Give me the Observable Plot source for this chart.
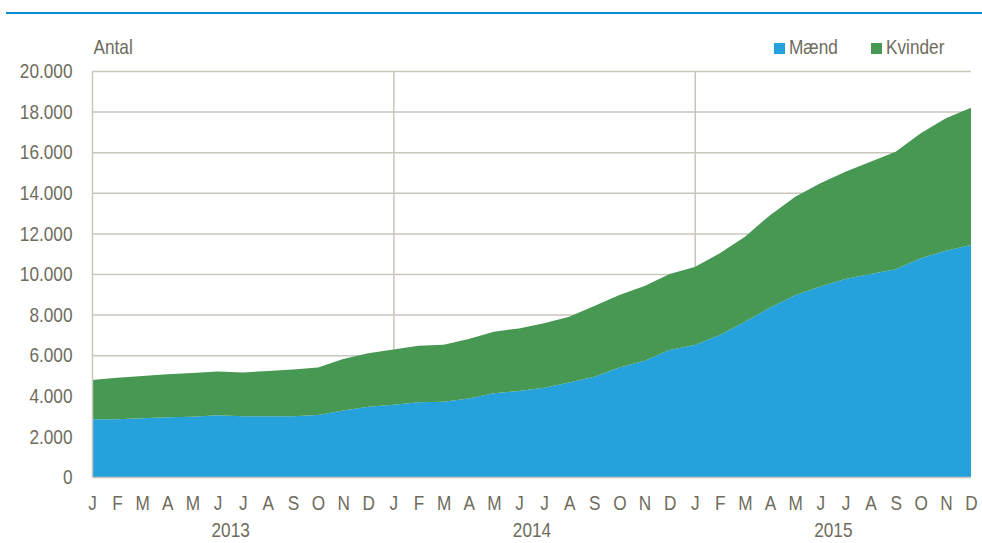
<!DOCTYPE html>
<html>
<head>
<meta charset="utf-8">
<script src="https://cdn.jsdelivr.net/npm/d3@7"></script>
<script src="https://cdn.jsdelivr.net/npm/@observablehq/plot@0.6"></script>
<style>
  html, body { margin: 0; padding: 0; background: #fff; }
  body { width: 982px; height: 543px; overflow: hidden; position: relative;
         font-family: "Liberation Sans", Arial, sans-serif; }
  #rule { position: absolute; left: 6px; right: 0; top: 12px; height: 2px; background: #0a8ad0; }
  #chart { position: absolute; left: 0; top: 16px; }
  .item { position: absolute; top: 36px; height: 22px; font-size: 21px; color: #6e6c5d; line-height: 22px; white-space: nowrap; }
  .sw { position: absolute; left: 0; top: 6.5px; width: 11px; height: 11px; }
  .lbl { position: absolute; left: 15px; top: 0; transform: scaleX(0.82); transform-origin: 0 50%; }
</style>
</head>
<body>
<div id="rule"></div>
<div id="chart"></div>
<div id="legend"></div>
<script>
const monthLetters = ["J","F","M","A","M","J","J","A","S","O","N","D"];
const years = ["2013","2014","2015"];
const seriesNames = ["Mænd","Kvinder"];
const seriesColors = ["#25a1db","#479852"];
const maend = [2840,2840,2890,2940,2970,3040,2990,2990,2990,3050,3280,3460,
               3560,3680,3710,3870,4120,4240,4400,4650,4940,5400,5730,6260,
               6500,7000,7650,8350,8950,9380,9750,10000,10230,10770,11150,11430];
const kvinder = [1940,2050,2085,2120,2150,2160,2160,2230,2300,2350,2530,2630,
                 2720,2790,2810,2930,3040,3080,3170,3250,3480,3570,3680,3740,
                 3850,4020,4190,4550,4850,5090,5290,5530,5790,6160,6520,6760];
const yTicks = [0,2000,4000,6000,8000,10000,12000,14000,16000,18000,20000];

const nMonths = years.length * 12;
const idx = d3.range(nMonths);
const data = [];
idx.forEach(i => {
  data.push({i, series: seriesNames[0], value: maend[i]});
  data.push({i, series: seriesNames[1], value: kvinder[i]});
});
const yearMarks = years.map((y, k) => ({label: y, x: k * 12 + 5.5}));
const yearStarts = years.slice(1).map((y, k) => (k + 1) * 12);

const locale = d3.formatLocale({decimal: ",", thousands: ".", grouping: [3], currency: ["", " kr"]});
const fmt = locale.format(",");

const textColor = "#6e6c5d";
const gridColor = "#c9c6bb";
const font = '"Liberation Sans", Arial, sans-serif';
const FS = 21;

const chart = Plot.plot({
  width: 982,
  height: 527,
  marginLeft: 92,
  marginRight: 11,
  marginTop: 55,
  marginBottom: 66,
  style: {fontFamily: font, fontSize: FS + "px", color: textColor, background: "#fff"},
  x: {type: "linear", domain: [0, nMonths - 1]},
  y: {domain: [0, 20000]},
  color: {domain: seriesNames, range: seriesColors},
  marks: [
    Plot.ruleY(yTicks.slice(1), {stroke: gridColor, strokeWidth: 1.5}),
    Plot.ruleX(yearStarts, {stroke: gridColor, strokeWidth: 1.5}),
    Plot.areaY(data, {x: "i", y: "value", fill: "series", order: seriesNames, curve: "linear"}),
    Plot.ruleX([0], {stroke: gridColor, strokeWidth: 1.5}),
    Plot.ruleY([0], {stroke: gridColor, strokeWidth: 1.5}),
    Plot.axisY({ticks: yTicks, tickSize: 0, tickPadding: 20, tickFormat: fmt, fontSize: FS, fill: textColor, label: null}),
    Plot.axisX({ticks: idx, tickSize: 0, tickPadding: 18, tickFormat: i => monthLetters[i % 12], fontSize: FS, fill: textColor, label: null}),
    Plot.text(yearMarks, {x: "x", y: () => 0, text: "label", dy: 53, fontSize: FS, fill: textColor}),
    Plot.text(["Antal"], {frameAnchor: "top-left", lineAnchor: "middle", dy: -24, dx: 1, textAnchor: "start", fontSize: FS, fill: textColor})
  ]
});
chart.querySelectorAll("text").forEach(t => {
  const tr = t.getAttribute("transform") || "";
  t.setAttribute("transform", (tr + " scale(0.82,1)").trim());
});
document.getElementById("chart").appendChild(chart);

const legend = document.getElementById("legend");
const legendLeft = [774, 871];
seriesNames.forEach((s, k) => {
  const item = document.createElement("div");
  item.className = "item";
  item.style.left = legendLeft[k] + "px";
  const sw = document.createElement("div");
  sw.className = "sw";
  sw.style.background = seriesColors[k];
  const t = document.createElement("span");
  t.className = "lbl";
  t.textContent = s;
  item.appendChild(sw);
  item.appendChild(t);
  legend.appendChild(item);
});
</script>
</body>
</html>
